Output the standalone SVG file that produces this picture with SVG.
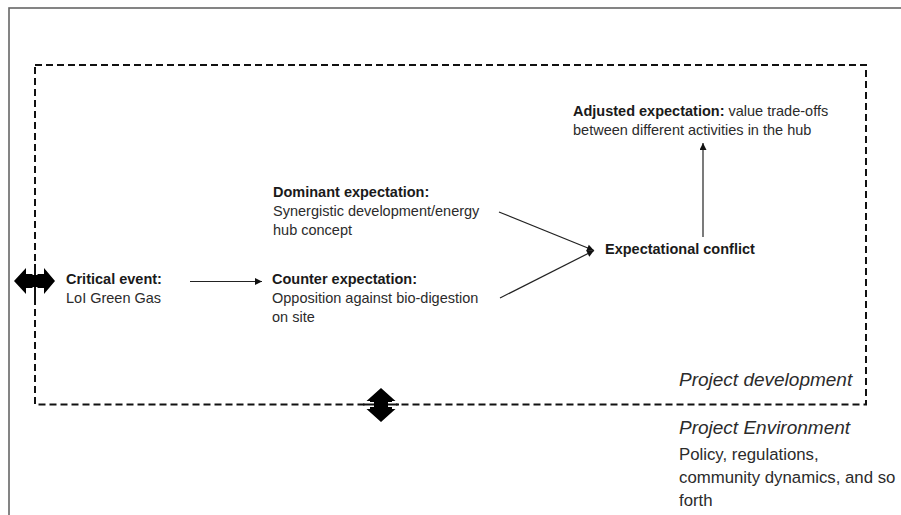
<svg xmlns="http://www.w3.org/2000/svg" width="901" height="515" viewBox="0 0 901 515">
<defs>
<marker id="ah" viewBox="0 0 10 10" refX="10" refY="5" markerWidth="8" markerHeight="7" markerUnits="userSpaceOnUse" orient="auto">
<path d="M0,0 L10,5 L0,10 Z" fill="#111"/>
</marker>
<style>
text{font-family:"Liberation Sans",Arial,sans-serif;font-size:14.5px;fill:#2b2b2b}
.b{font-weight:bold;fill:#1a1a1a}
.i{font-style:italic;font-size:19px}
.env{font-size:16.8px}
.conn{stroke:#222;stroke-width:1.2;fill:none;marker-end:url(#ah)}
.dash{stroke:#111;stroke-width:2;fill:none;stroke-dasharray:7 4}
.blk{fill:#000}
.halo{stroke:#fff;stroke-width:5}
.hdash{stroke:#111;stroke-width:2}
</style>
</defs>
<rect width="901" height="515" fill="#fff"/>
<rect id="frame" x="9" y="8" width="900" height="520" fill="none" stroke="#666" stroke-width="1.6"/>
<rect id="project-development-box" x="35" y="65" width="831" height="339.5" class="dash"/>
<g id="connectors">
<line x1="190" y1="281.5" x2="262" y2="281.5" class="conn"/>
<line x1="499" y1="212" x2="594" y2="250.5" class="conn"/>
<line x1="500" y1="298" x2="594" y2="250.5" class="conn"/>
<line x1="703" y1="237" x2="703" y2="143" class="conn"/>
<g id="double-arrow-left">
<polygon class="blk" points="14,281 26,268 26,274 44,274 44,268 55,281 44,294 44,288 26,288 26,294"/>
<line class="halo" x1="35" y1="266" x2="35" y2="275"/>
<line class="hdash" x1="35" y1="264" x2="35" y2="275"/>
<line class="halo" x1="35" y1="287" x2="35" y2="296"/>
<line class="hdash" x1="35" y1="287" x2="35" y2="298"/>
</g>
<g id="double-arrow-bottom">
<polygon class="blk" points="381,388 395.5,401 392,401 392,409 395.5,409 381,422 366.5,409 370,409 370,401 366.5,401"/>
<line class="halo" x1="366" y1="404.5" x2="374" y2="404.5"/>
<line class="hdash" x1="363" y1="404.5" x2="374" y2="404.5"/>
<line class="halo" x1="388" y1="404.5" x2="396" y2="404.5"/>
<line class="hdash" x1="388" y1="404.5" x2="399" y2="404.5"/>
</g>
</g>
<g id="critical-event">
<text x="66" y="284" class="b">Critical event:</text>
<text x="66" y="303">LoI Green Gas</text>
</g>
<g id="dominant-expectation">
<text x="273" y="197" class="b">Dominant expectation:</text>
<text x="273" y="216">Synergistic development/energy</text>
<text x="273" y="235">hub concept</text>
</g>
<g id="counter-expectation">
<text x="272" y="284" class="b">Counter expectation:</text>
<text x="272" y="303">Opposition against bio-digestion</text>
<text x="272" y="322">on site</text>
</g>
<g id="expectational-conflict">
<text x="605" y="254" class="b">Expectational conflict</text>
</g>
<g id="adjusted-expectation">
<text x="573" y="116"><tspan class="b">Adjusted expectation:</tspan> value trade-offs</text>
<text x="573" y="135">between different activities in the hub</text>
</g>
<g id="project-development-label">
<text x="679" y="386" class="i">Project development</text>
</g>
<g id="project-environment">
<text x="679" y="434" class="i">Project Environment</text>
<text x="679" y="460" class="env">Policy, regulations,</text>
<text x="679" y="483" class="env">community dynamics, and so</text>
<text x="679" y="506" class="env">forth</text>
</g>
</svg>
